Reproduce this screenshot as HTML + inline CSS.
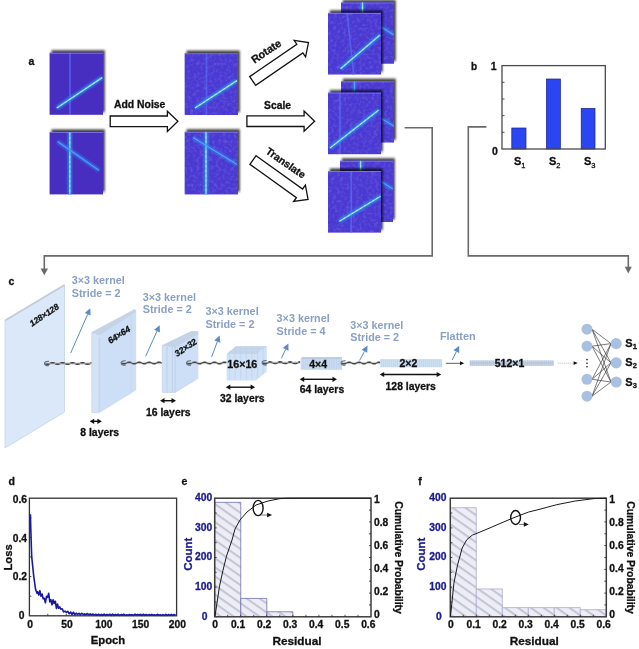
<!DOCTYPE html><html><head><meta charset="utf-8"><style>html,body{margin:0;padding:0;background:#fff;width:639px;height:649px;overflow:hidden}svg{filter:blur(0.4px)}</style></head><body><svg width="639" height="649" viewBox="0 0 639 649" style="position:absolute;left:0;top:0;font-family:'Liberation Sans', sans-serif">
<defs>
<filter id="shadow" x="-20%" y="-20%" width="140%" height="140%"><feDropShadow dx="1.8" dy="-2.6" stdDeviation="1.3" flood-color="#000" flood-opacity="0.75"/></filter>
<filter id="blur1" filterUnits="userSpaceOnUse" x="0" y="0" width="639" height="649"><feGaussianBlur stdDeviation="0.8"/></filter>
<filter id="blur05" filterUnits="userSpaceOnUse" x="0" y="0" width="639" height="649"><feGaussianBlur stdDeviation="0.5"/></filter>
<filter id="noise" x="0" y="0" width="100%" height="100%"><feTurbulence type="fractalNoise" baseFrequency="0.32" numOctaves="2" seed="4"/><feColorMatrix type="matrix" values="0 0 0 0 0.31  0 0 0 0 0.28  0 0 0 0 0.98  0 0 0 -2.6 1.35"/></filter>
<filter id="noise2" x="0" y="0" width="100%" height="100%"><feTurbulence type="fractalNoise" baseFrequency="0.3" numOctaves="2" seed="9"/><feColorMatrix type="matrix" values="0 0 0 0 0.2  0 0 0 0 0.12  0 0 0 0 0.65  0 0 0 -2.4 1.25"/></filter>
<pattern id="hatch" patternUnits="userSpaceOnUse" width="14" height="7.6" patternTransform="rotate(0)">
</pattern>
</defs>
<rect width="639" height="649" fill="#fff"/>
<text x="28.4" y="65" font-size="10.5" font-weight="bold" fill="#111" stroke="#111" stroke-width="0.3" text-anchor="start">a</text>
<clipPath id="c4"><rect x="49.6" y="52.8" width="53.4" height="62.0"/></clipPath>
<rect x="49.6" y="52.8" width="53.4" height="62.0" fill="#472fc0" filter="url(#shadow)"/>
<g clip-path="url(#c4)">
<line x1="70" y1="52" x2="70" y2="115" stroke="#5868f2" stroke-width="1.7" opacity="0.8" filter="url(#blur05)"/>
<line x1="56.8" y1="108" x2="102.2" y2="77.6" stroke="#2c8ef2" stroke-width="4.2" opacity="0.9" filter="url(#blur1)"/>
<line x1="56.8" y1="108" x2="102.2" y2="77.6" stroke="#8ee0ea" stroke-width="1.3" opacity="0.95"/>
<line x1="56.8" y1="108" x2="102.2" y2="77.6" stroke="#e0f4b0" stroke-width="0.9" stroke-dasharray="2.2,2.6" opacity="0.8"/>
<line x1="49.6" y1="53.3" x2="103" y2="53.3" stroke="#8f88f0" stroke-width="1" opacity="0.7"/>
</g>
<clipPath id="c13"><rect x="49.6" y="132" width="53.4" height="62.400000000000006"/></clipPath>
<rect x="49.6" y="132" width="53.4" height="62.400000000000006" fill="#472fc0" filter="url(#shadow)"/>
<g clip-path="url(#c13)">
<line x1="69.8" y1="132" x2="69.8" y2="194" stroke="#2c8ef2" stroke-width="4.2" opacity="0.9" filter="url(#blur1)"/>
<line x1="69.8" y1="132" x2="69.8" y2="194" stroke="#8ee0ea" stroke-width="1.3" opacity="0.95"/>
<line x1="69.8" y1="132" x2="69.8" y2="194" stroke="#e0f4b0" stroke-width="0.9" stroke-dasharray="2.2,2.6" opacity="0.8"/>
<line x1="57.6" y1="141.5" x2="99" y2="170.4" stroke="#3484f2" stroke-width="3.4" opacity="0.85" filter="url(#blur1)"/>
<line x1="57.6" y1="141.5" x2="99" y2="170.4" stroke="#5cbcf2" stroke-width="1.0" opacity="0.8"/>
<line x1="49.6" y1="132.5" x2="103" y2="132.5" stroke="#8f88f0" stroke-width="1" opacity="0.7"/>
</g>
<clipPath id="c23"><rect x="184.7" y="53.2" width="53.30000000000001" height="61.8"/></clipPath>
<rect x="184.7" y="53.2" width="53.30000000000001" height="61.8" fill="#4838d2" filter="url(#shadow)"/>
<g clip-path="url(#c23)">
<rect x="184.7" y="53.2" width="53.30000000000001" height="61.8" fill="#5a4ae0" filter="url(#noise)" opacity="0.3"/>
<rect x="184.7" y="53.2" width="53.30000000000001" height="61.8" fill="#5a4ae0" filter="url(#noise2)" opacity="0.5"/>
<line x1="206.5" y1="52.5" x2="206.5" y2="115" stroke="#5868f2" stroke-width="1.7" opacity="0.8" filter="url(#blur05)"/>
<line x1="195" y1="108" x2="236.9" y2="80.6" stroke="#2c8ef2" stroke-width="4.2" opacity="0.9" filter="url(#blur1)"/>
<line x1="195" y1="108" x2="236.9" y2="80.6" stroke="#8ee0ea" stroke-width="1.3" opacity="0.95"/>
<line x1="195" y1="108" x2="236.9" y2="80.6" stroke="#e0f4b0" stroke-width="0.9" stroke-dasharray="2.2,2.6" opacity="0.8"/>
<line x1="184.7" y1="53.7" x2="238" y2="53.7" stroke="#8f88f0" stroke-width="1" opacity="0.7"/>
</g>
<clipPath id="c34"><rect x="184.7" y="131.8" width="53.30000000000001" height="62.599999999999994"/></clipPath>
<rect x="184.7" y="131.8" width="53.30000000000001" height="62.599999999999994" fill="#4838d2" filter="url(#shadow)"/>
<g clip-path="url(#c34)">
<rect x="184.7" y="131.8" width="53.30000000000001" height="62.599999999999994" fill="#5a4ae0" filter="url(#noise)" opacity="0.3"/>
<rect x="184.7" y="131.8" width="53.30000000000001" height="62.599999999999994" fill="#5a4ae0" filter="url(#noise2)" opacity="0.5"/>
<line x1="206" y1="131.5" x2="206" y2="194.4" stroke="#2c8ef2" stroke-width="4.2" opacity="0.9" filter="url(#blur1)"/>
<line x1="206" y1="131.5" x2="206" y2="194.4" stroke="#8ee0ea" stroke-width="1.3" opacity="0.95"/>
<line x1="206" y1="131.5" x2="206" y2="194.4" stroke="#e0f4b0" stroke-width="0.9" stroke-dasharray="2.2,2.6" opacity="0.8"/>
<line x1="193" y1="137.5" x2="236.9" y2="164.4" stroke="#3484f2" stroke-width="3.4" opacity="0.85" filter="url(#blur1)"/>
<line x1="193" y1="137.5" x2="236.9" y2="164.4" stroke="#5cbcf2" stroke-width="1.0" opacity="0.8"/>
<line x1="184.7" y1="132.3" x2="238" y2="132.3" stroke="#8f88f0" stroke-width="1" opacity="0.7"/>
</g>
<clipPath id="c46"><rect x="341" y="2.5" width="53" height="61.2"/></clipPath>
<rect x="341" y="2.5" width="53" height="61.2" fill="#4838d2" filter="url(#shadow)"/>
<g clip-path="url(#c46)">
<rect x="341" y="2.5" width="53" height="61.2" fill="#5a4ae0" filter="url(#noise)" opacity="0.3"/>
<rect x="341" y="2.5" width="53" height="61.2" fill="#5a4ae0" filter="url(#noise2)" opacity="0.5"/>
<line x1="362.5" y1="2" x2="362.5" y2="63" stroke="#2c8ef2" stroke-width="4.2" opacity="0.9" filter="url(#blur1)"/>
<line x1="362.5" y1="2" x2="362.5" y2="63" stroke="#8ee0ea" stroke-width="1.3" opacity="0.95"/>
<line x1="362.5" y1="2" x2="362.5" y2="63" stroke="#e0f4b0" stroke-width="0.9" stroke-dasharray="2.2,2.6" opacity="0.8"/>
<line x1="370" y1="20" x2="394" y2="35" stroke="#3484f2" stroke-width="3.4" opacity="0.85" filter="url(#blur1)"/>
<line x1="370" y1="20" x2="394" y2="35" stroke="#5cbcf2" stroke-width="1.0" opacity="0.8"/>
<line x1="341" y1="3.0" x2="394" y2="3.0" stroke="#8f88f0" stroke-width="1" opacity="0.7"/>
</g>
<clipPath id="c58"><rect x="328" y="12.9" width="53" height="61.6"/></clipPath>
<rect x="328" y="12.9" width="53" height="61.6" fill="#4838d2" filter="url(#shadow)"/>
<g clip-path="url(#c58)">
<rect x="328" y="12.9" width="53" height="61.6" fill="#5a4ae0" filter="url(#noise)" opacity="0.3"/>
<rect x="328" y="12.9" width="53" height="61.6" fill="#5a4ae0" filter="url(#noise2)" opacity="0.5"/>
<line x1="347" y1="12.5" x2="353.75" y2="75" stroke="#5868f2" stroke-width="1.7" opacity="0.8" filter="url(#blur05)"/>
<line x1="340.6" y1="68.75" x2="380" y2="35" stroke="#2c8ef2" stroke-width="4.2" opacity="0.9" filter="url(#blur1)"/>
<line x1="340.6" y1="68.75" x2="380" y2="35" stroke="#8ee0ea" stroke-width="1.3" opacity="0.95"/>
<line x1="340.6" y1="68.75" x2="380" y2="35" stroke="#e0f4b0" stroke-width="0.9" stroke-dasharray="2.2,2.6" opacity="0.8"/>
<line x1="328" y1="13.4" x2="381" y2="13.4" stroke="#8f88f0" stroke-width="1" opacity="0.7"/>
</g>
<clipPath id="c69"><rect x="341" y="81.3" width="53" height="61.2"/></clipPath>
<rect x="341" y="81.3" width="53" height="61.2" fill="#4838d2" filter="url(#shadow)"/>
<g clip-path="url(#c69)">
<rect x="341" y="81.3" width="53" height="61.2" fill="#5a4ae0" filter="url(#noise)" opacity="0.3"/>
<rect x="341" y="81.3" width="53" height="61.2" fill="#5a4ae0" filter="url(#noise2)" opacity="0.5"/>
<line x1="354.4" y1="81" x2="354.4" y2="142.5" stroke="#3484f2" stroke-width="3.4" opacity="0.85" filter="url(#blur1)"/>
<line x1="354.4" y1="81" x2="354.4" y2="142.5" stroke="#5cbcf2" stroke-width="1.0" opacity="0.8"/>
<line x1="370" y1="112" x2="394" y2="126" stroke="#3484f2" stroke-width="3.4" opacity="0.85" filter="url(#blur1)"/>
<line x1="370" y1="112" x2="394" y2="126" stroke="#5cbcf2" stroke-width="1.0" opacity="0.8"/>
<line x1="341" y1="81.8" x2="394" y2="81.8" stroke="#8f88f0" stroke-width="1" opacity="0.7"/>
</g>
<clipPath id="c80"><rect x="328" y="92.60000000000001" width="53" height="61.59999999999998"/></clipPath>
<rect x="328" y="92.60000000000001" width="53" height="61.59999999999998" fill="#4838d2" filter="url(#shadow)"/>
<g clip-path="url(#c80)">
<rect x="328" y="92.60000000000001" width="53" height="61.59999999999998" fill="#5a4ae0" filter="url(#noise)" opacity="0.3"/>
<rect x="328" y="92.60000000000001" width="53" height="61.59999999999998" fill="#5a4ae0" filter="url(#noise2)" opacity="0.5"/>
<line x1="340" y1="92" x2="340" y2="154" stroke="#5868f2" stroke-width="1.7" opacity="0.8" filter="url(#blur05)"/>
<line x1="330" y1="148" x2="378.75" y2="110" stroke="#2c8ef2" stroke-width="4.2" opacity="0.9" filter="url(#blur1)"/>
<line x1="330" y1="148" x2="378.75" y2="110" stroke="#8ee0ea" stroke-width="1.3" opacity="0.95"/>
<line x1="330" y1="148" x2="378.75" y2="110" stroke="#e0f4b0" stroke-width="0.9" stroke-dasharray="2.2,2.6" opacity="0.8"/>
<line x1="328" y1="93.10000000000001" x2="381" y2="93.10000000000001" stroke="#8f88f0" stroke-width="1" opacity="0.7"/>
</g>
<clipPath id="c91"><rect x="340" y="160.8" width="53" height="61.19999999999999"/></clipPath>
<rect x="340" y="160.8" width="53" height="61.19999999999999" fill="#4838d2" filter="url(#shadow)"/>
<g clip-path="url(#c91)">
<rect x="340" y="160.8" width="53" height="61.19999999999999" fill="#5a4ae0" filter="url(#noise)" opacity="0.3"/>
<rect x="340" y="160.8" width="53" height="61.19999999999999" fill="#5a4ae0" filter="url(#noise2)" opacity="0.5"/>
<line x1="360.6" y1="160.5" x2="360.6" y2="222" stroke="#2c8ef2" stroke-width="4.2" opacity="0.9" filter="url(#blur1)"/>
<line x1="360.6" y1="160.5" x2="360.6" y2="222" stroke="#8ee0ea" stroke-width="1.3" opacity="0.95"/>
<line x1="360.6" y1="160.5" x2="360.6" y2="222" stroke="#e0f4b0" stroke-width="0.9" stroke-dasharray="2.2,2.6" opacity="0.8"/>
<line x1="372" y1="176" x2="393" y2="189" stroke="#3484f2" stroke-width="3.4" opacity="0.85" filter="url(#blur1)"/>
<line x1="372" y1="176" x2="393" y2="189" stroke="#5cbcf2" stroke-width="1.0" opacity="0.8"/>
<line x1="340" y1="161.3" x2="393" y2="161.3" stroke="#8f88f0" stroke-width="1" opacity="0.7"/>
</g>
<clipPath id="c103"><rect x="328" y="171.0" width="53" height="61.599999999999994"/></clipPath>
<rect x="328" y="171.0" width="53" height="61.599999999999994" fill="#4838d2" filter="url(#shadow)"/>
<g clip-path="url(#c103)">
<rect x="328" y="171.0" width="53" height="61.599999999999994" fill="#5a4ae0" filter="url(#noise)" opacity="0.3"/>
<rect x="328" y="171.0" width="53" height="61.599999999999994" fill="#5a4ae0" filter="url(#noise2)" opacity="0.5"/>
<line x1="351.25" y1="170.6" x2="351.25" y2="232.5" stroke="#5868f2" stroke-width="1.7" opacity="0.8" filter="url(#blur05)"/>
<line x1="339.4" y1="221.25" x2="380.6" y2="196.25" stroke="#2c8ef2" stroke-width="4.2" opacity="0.9" filter="url(#blur1)"/>
<line x1="339.4" y1="221.25" x2="380.6" y2="196.25" stroke="#8ee0ea" stroke-width="1.3" opacity="0.95"/>
<line x1="339.4" y1="221.25" x2="380.6" y2="196.25" stroke="#e0f4b0" stroke-width="0.9" stroke-dasharray="2.2,2.6" opacity="0.8"/>
<line x1="328" y1="171.5" x2="381" y2="171.5" stroke="#8f88f0" stroke-width="1" opacity="0.7"/>
</g>
<polygon points="110.20,116.00 167.40,116.00 167.40,111.20 177.90,121.30 167.40,131.40 167.40,126.60 110.20,126.60" fill="#fff" stroke="#111" stroke-width="1.3" stroke-linejoin="miter"/>
<polygon points="246.90,115.90 304.10,115.90 304.10,111.10 314.60,121.20 304.10,131.30 304.10,126.50 246.90,126.50" fill="#fff" stroke="#111" stroke-width="1.3" stroke-linejoin="miter"/>
<polygon points="249.70,76.63 296.84,44.23 294.12,40.28 308.49,42.65 305.56,56.93 302.84,52.97 255.70,85.37" fill="#fff" stroke="#111" stroke-width="1.3" stroke-linejoin="miter"/>
<polygon points="256.09,155.69 302.59,188.99 305.39,185.09 308.05,199.41 293.63,201.51 296.42,197.61 249.91,164.31" fill="#fff" stroke="#111" stroke-width="1.3" stroke-linejoin="miter"/>
<text x="114" y="108.3" font-size="10.4" font-weight="bold" fill="#111" stroke="#111" stroke-width="0.3" text-anchor="start">Add Noise</text>
<text x="264.1" y="108.5" font-size="10.3" font-weight="bold" fill="#111" stroke="#111" stroke-width="0.3" text-anchor="start">Scale</text>
<path d="M404.6,127.7 H432.2 V255.9 H44.3 V270" fill="none" stroke="#6a6a6a" stroke-width="1.6"/>
<polygon points="40.6,268.5 48,268.5 44.3,275.3" fill="#6a6a6a"/>
<path d="M486.4,126.9 H468.3 V255.9 H628.3 V268" fill="none" stroke="#6a6a6a" stroke-width="1.6"/>
<polygon points="624.8,266.8 631.8,266.8 628.3,273.4" fill="#6a6a6a"/>
<text x="471" y="70.3" font-size="10" font-weight="bold" fill="#111" stroke="#111" stroke-width="0.3" text-anchor="start">b</text>
<text x="496.5" y="70.2" font-size="10.5" font-weight="bold" fill="#111" stroke="#111" stroke-width="0.3" text-anchor="end">1</text>
<text x="497.8" y="155.2" font-size="10.5" font-weight="bold" fill="#111" stroke="#111" stroke-width="0.3" text-anchor="end">0</text>
<rect x="511.8" y="128" width="14.199999999999989" height="21" fill="#2a46f2" stroke="#1a2090" stroke-width="0.7"/>
<rect x="546.4" y="79" width="14.0" height="70" fill="#2a46f2" stroke="#1a2090" stroke-width="0.7"/>
<rect x="581.2" y="108.4" width="13.799999999999955" height="40.599999999999994" fill="#2a46f2" stroke="#1a2090" stroke-width="0.7"/>
<rect x="502" y="65.6" width="103.29999999999995" height="83.4" fill="none" stroke="#4a4a4a" stroke-width="1.3"/>
<line x1="502" y1="132.3" x2="504.5" y2="132.3" stroke="#4a4a4a" stroke-width="1"/>
<line x1="502" y1="115.6" x2="504.5" y2="115.6" stroke="#4a4a4a" stroke-width="1"/>
<line x1="502" y1="99.0" x2="504.5" y2="99.0" stroke="#4a4a4a" stroke-width="1"/>
<line x1="502" y1="82.3" x2="504.5" y2="82.3" stroke="#4a4a4a" stroke-width="1"/>
<text x="514" y="165.2" font-size="11" font-weight="bold" fill="#111" stroke="#111" stroke-width="0.3">S<tspan font-size="7.5" font-weight="normal" dy="2.8">1</tspan></text>
<text x="549" y="165.2" font-size="11" font-weight="bold" fill="#111" stroke="#111" stroke-width="0.3">S<tspan font-size="7.5" font-weight="normal" dy="2.8">2</tspan></text>
<text x="584" y="165.2" font-size="11" font-weight="bold" fill="#111" stroke="#111" stroke-width="0.3">S<tspan font-size="7.5" font-weight="normal" dy="2.8">3</tspan></text>
<text x="8.5" y="284.6" font-size="10.5" font-weight="bold" fill="#111" stroke="#111" stroke-width="0.3" text-anchor="start">c</text>
<text x="0" y="3.8" font-size="10.8" font-weight="bold" fill="#111" text-anchor="middle" transform="translate(266.2,51.3) rotate(-34)" stroke="#111" stroke-width="0.3">Rotate</text>
<text x="0" y="3.7" font-size="10.4" font-weight="bold" fill="#111" text-anchor="middle" transform="translate(285.8,162.8) rotate(35)" stroke="#111" stroke-width="0.3">Translate</text>
<polygon points="5,320.5 64.5,285 64.5,412 5,448" fill="#dbe8f9" stroke="#cbd9ea" stroke-width="1"/>
<line x1="5" y1="320.5" x2="64.5" y2="285" stroke="#c2ccd8" stroke-width="1.6"/>
<text x="0" y="3.3" font-size="8.5" font-weight="bold" font-style="italic" fill="#111" text-anchor="middle" transform="translate(44,314.7) rotate(-33.5)" stroke="#111" stroke-width="0.3">128×128</text>
<path d="M45.00,363.50 L46.00,363.94 L47.00,364.21 L48.00,364.21 L49.00,363.94 L50.00,363.50 L51.00,363.06 L52.00,362.79 L53.00,362.79 L54.00,363.06 L55.00,363.50 L56.00,363.94 L57.00,364.21 L58.00,364.21 L59.00,363.94 L60.00,363.50 L61.00,363.06 L62.00,362.79 L63.00,362.79 L64.00,363.06 L65.00,363.50 L66.00,363.94 L67.00,364.21 L68.00,364.21 L69.00,363.94 L70.00,363.50 L71.00,363.06 L72.00,362.79 L73.00,362.79 L74.00,363.06 L75.00,363.50 L76.00,363.94 L77.00,364.21 L78.00,364.21 L79.00,363.94 L80.00,363.50 L81.00,363.06 L82.00,362.79 L83.00,362.79 L84.00,363.06 L85.00,363.50 L86.00,363.94 L87.00,364.21 L88.00,364.21 L89.00,363.94 L90.00,363.50 L91.00,363.06 L92.00,362.79 L93.00,362.79 L94.00,363.06 L95.00,363.50" fill="none" stroke="#454545" stroke-width="1.7"/>
<path d="M45.00,363.50 L46.00,363.06 L47.00,362.79 L48.00,362.79 L49.00,363.06 L50.00,363.50 L51.00,363.94 L52.00,364.21 L53.00,364.21 L54.00,363.94 L55.00,363.50 L56.00,363.06 L57.00,362.79 L58.00,362.79 L59.00,363.06 L60.00,363.50 L61.00,363.94 L62.00,364.21 L63.00,364.21 L64.00,363.94 L65.00,363.50 L66.00,363.06 L67.00,362.79 L68.00,362.79 L69.00,363.06 L70.00,363.50 L71.00,363.94 L72.00,364.21 L73.00,364.21 L74.00,363.94 L75.00,363.50 L76.00,363.06 L77.00,362.79 L78.00,362.79 L79.00,363.06 L80.00,363.50 L81.00,363.94 L82.00,364.21 L83.00,364.21 L84.00,363.94 L85.00,363.50 L86.00,363.06 L87.00,362.79 L88.00,362.79 L89.00,363.06 L90.00,363.50 L91.00,363.94 L92.00,364.21 L93.00,364.21 L94.00,363.94 L95.00,363.50" fill="none" stroke="#c8c8c8" stroke-width="0.8"/>
<path d="M49,361.3 Q44.5,361.1 44.5,363.5 Q44.5,365.9 49,365.7" fill="none" stroke="#5a6a80" stroke-width="1.1"/>
<polygon points="91.8,332.4 134.8,309.4 135.7,310 135.7,390 99.1,412.6 91.8,412.6" fill="#d4e3f6" stroke="#c5d5ea" stroke-width="0.8"/>
<polygon points="99.1,335.6 135.7,312.2 135.7,390 99.1,412.6" fill="#cddff6"/>
<polygon points="91.8,332.4 134.8,309.4 135.7,312.2 99.1,335.6" fill="#c4d3e5"/>
<line x1="99.1" y1="337" x2="99.1" y2="412.6" stroke="#b9cbe2" stroke-width="0.8"/>
<line x1="131" y1="316" x2="131" y2="392" stroke="#c0d2ea" stroke-width="0.6"/>
<text x="0" y="3.3" font-size="8.8" font-weight="bold" font-style="italic" fill="#111" text-anchor="middle" transform="translate(118.9,334.6) rotate(-33)" stroke="#111" stroke-width="0.3">64×64</text>
<path d="M121.60,363.00 L122.61,363.44 L123.62,363.72 L124.63,363.71 L125.64,363.43 L126.65,362.98 L127.66,362.54 L128.67,362.28 L129.68,362.30 L130.69,362.59 L131.70,363.05 L132.71,363.48 L133.72,363.73 L134.73,363.69 L135.74,363.39 L136.75,362.93 L137.76,362.50 L138.77,362.27 L139.78,362.32 L140.79,362.63 L141.80,363.09 L142.81,363.52 L143.82,363.74 L144.83,363.67 L145.84,363.34 L146.85,362.88 L147.86,362.47 L148.87,362.26 L149.88,362.34 L150.89,362.68 L151.90,363.14 L152.91,363.55 L153.92,363.75 L154.93,363.65 L155.94,363.30 L156.95,362.84 L157.96,362.43 L158.97,362.25 L159.98,362.36 L160.99,362.72 L162.00,363.19" fill="none" stroke="#454545" stroke-width="1.7"/>
<path d="M121.60,363.00 L122.61,362.56 L123.62,362.28 L124.63,362.29 L125.64,362.57 L126.65,363.02 L127.66,363.46 L128.67,363.72 L129.68,363.70 L130.69,363.41 L131.70,362.95 L132.71,362.52 L133.72,362.27 L134.73,362.31 L135.74,362.61 L136.75,363.07 L137.76,363.50 L138.77,363.73 L139.78,363.68 L140.79,363.37 L141.80,362.91 L142.81,362.48 L143.82,362.26 L144.83,362.33 L145.84,362.66 L146.85,363.12 L147.86,363.53 L148.87,363.74 L149.88,363.66 L150.89,363.32 L151.90,362.86 L152.91,362.45 L153.92,362.25 L154.93,362.35 L155.94,362.70 L156.95,363.16 L157.96,363.57 L158.97,363.75 L159.98,363.64 L160.99,363.28 L162.00,362.81" fill="none" stroke="#c8c8c8" stroke-width="0.8"/>
<path d="M125.6,360.8 Q121.1,360.6 121.1,363 Q121.1,365.4 125.6,365.2" fill="none" stroke="#5a6a80" stroke-width="1.1"/>
<polygon points="162.3,345.5 191,331.6 197.8,331.6 197.8,378.6 175,392.4 162.3,392.4" fill="#d2e2f6" stroke="#c5d5ea" stroke-width="0.8"/>
<polygon points="175,347.6 197.8,334.2 197.8,378.6 175,392.4" fill="#cddff6"/>
<polygon points="162.3,345.5 191,331.6 197.8,331.6 197.8,334.2 175,347.6" fill="#c4d3e5"/>
<line x1="167" y1="347.0" x2="167" y2="392.4" stroke="#b5c8e0" stroke-width="0.7"/>
<line x1="172.4" y1="346.5" x2="172.4" y2="392.4" stroke="#b5c8e0" stroke-width="0.7"/>
<line x1="175" y1="346.2" x2="175" y2="392.4" stroke="#b5c8e0" stroke-width="0.7"/>
<text x="0" y="3.3" font-size="8.8" font-weight="bold" font-style="italic" fill="#111" text-anchor="middle" transform="translate(185.5,347.3) rotate(-34)" stroke="#111" stroke-width="0.3">32×32</text>
<path d="M187.00,363.00 L188.02,363.45 L189.03,363.72 L190.05,363.71 L191.06,363.42 L192.08,362.96 L193.09,362.52 L194.11,362.27 L195.12,362.31 L196.14,362.61 L197.15,363.07 L198.17,363.50 L199.18,363.74 L200.20,363.68 L201.22,363.35 L202.23,362.89 L203.25,362.47 L204.26,362.26 L205.28,362.34 L206.29,362.68 L207.31,363.14 L208.32,363.55 L209.34,363.75 L210.35,363.64 L211.37,363.29 L212.38,362.82 L213.40,362.42 L214.42,362.25 L215.43,362.37 L216.45,362.74 L217.46,363.21 L218.48,363.60 L219.49,363.75 L220.51,363.60 L221.52,363.22 L222.54,362.75 L223.55,362.38 L224.57,362.25 L225.58,362.42 L226.60,362.81" fill="none" stroke="#454545" stroke-width="1.7"/>
<path d="M187.00,363.00 L188.02,362.55 L189.03,362.28 L190.05,362.29 L191.06,362.58 L192.08,363.04 L193.09,363.48 L194.11,363.73 L195.12,363.69 L196.14,363.39 L197.15,362.93 L198.17,362.50 L199.18,362.26 L200.20,362.32 L201.22,362.65 L202.23,363.11 L203.25,363.53 L204.26,363.74 L205.28,363.66 L206.29,363.32 L207.31,362.86 L208.32,362.45 L209.34,362.25 L210.35,362.36 L211.37,362.71 L212.38,363.18 L213.40,363.58 L214.42,363.75 L215.43,363.63 L216.45,363.26 L217.46,362.79 L218.48,362.40 L219.49,362.25 L220.51,362.40 L221.52,362.78 L222.54,363.25 L223.55,363.62 L224.57,363.75 L225.58,363.58 L226.60,363.19" fill="none" stroke="#c8c8c8" stroke-width="0.8"/>
<path d="M191,360.8 Q186.5,360.6 186.5,363 Q186.5,365.4 191,365.2" fill="none" stroke="#5a6a80" stroke-width="1.1"/>
<polygon points="226.6,354 236,346.2 266.8,346.2 266.8,371.5 256,380.4 226.6,380.4" fill="#d0e2f7"/>
<polygon points="226.6,354 236,346.2 266.8,346.2 256,354" fill="#c4d5ea"/>
<line x1="229.5" y1="351.7" x2="229.5" y2="380.0" stroke="#bccfe6" stroke-width="0.6"/>
<line x1="235.1" y1="347.2" x2="235.1" y2="380.0" stroke="#bccfe6" stroke-width="0.6"/>
<line x1="240.7" y1="346.6" x2="240.7" y2="380.0" stroke="#bccfe6" stroke-width="0.6"/>
<line x1="246.3" y1="346.6" x2="246.3" y2="380.0" stroke="#bccfe6" stroke-width="0.6"/>
<line x1="251.9" y1="346.6" x2="251.9" y2="380.0" stroke="#bccfe6" stroke-width="0.6"/>
<line x1="257.5" y1="346.6" x2="257.5" y2="378.1" stroke="#bccfe6" stroke-width="0.6"/>
<line x1="263.1" y1="346.6" x2="263.1" y2="374.3" stroke="#bccfe6" stroke-width="0.6"/>
<text x="242.3" y="367.7" font-size="10.7" font-weight="bold" fill="#111" stroke="#111" stroke-width="0.3" text-anchor="middle">16×16</text>
<path d="M262.60,362.70 L263.62,363.15 L264.63,363.42 L265.65,363.41 L266.66,363.12 L267.68,362.66 L268.70,362.22 L269.71,361.97 L270.73,362.01 L271.75,362.32 L272.76,362.78 L273.78,363.21 L274.79,363.44 L275.81,363.38 L276.83,363.05 L277.84,362.59 L278.86,362.17 L279.88,361.96 L280.89,362.04 L281.91,362.38 L282.92,362.85 L283.94,363.26 L284.96,363.45 L285.97,363.34 L286.99,362.98 L288.01,362.51 L289.02,362.12 L290.04,361.95 L291.05,362.08 L292.07,362.45 L293.09,362.93 L294.10,363.31 L295.12,363.45 L296.14,363.30 L297.15,362.91 L298.17,362.44 L299.18,362.07 L300.20,361.95" fill="none" stroke="#454545" stroke-width="1.7"/>
<path d="M262.60,362.70 L263.62,362.25 L264.63,361.98 L265.65,361.99 L266.66,362.28 L267.68,362.74 L268.70,363.18 L269.71,363.43 L270.73,363.39 L271.75,363.08 L272.76,362.62 L273.78,362.19 L274.79,361.96 L275.81,362.02 L276.83,362.35 L277.84,362.81 L278.86,363.23 L279.88,363.44 L280.89,363.36 L281.91,363.02 L282.92,362.55 L283.94,362.14 L284.96,361.95 L285.97,362.06 L286.99,362.42 L288.01,362.89 L289.02,363.28 L290.04,363.45 L291.05,363.32 L292.07,362.95 L293.09,362.47 L294.10,362.09 L295.12,361.95 L296.14,362.10 L297.15,362.49 L298.17,362.96 L299.18,363.33 L300.20,363.45" fill="none" stroke="#c8c8c8" stroke-width="0.8"/>
<path d="M266.6,360.5 Q262.1,360.3 262.1,362.7 Q262.1,365.09999999999997 266.6,364.9" fill="none" stroke="#5a6a80" stroke-width="1.1"/>
<polygon points="302.5,357.2 341.9,357.2 341.9,369.8 300.6,369.8 300.6,359.2" fill="#cadcf2"/>
<rect x="301.5" y="357.2" width="40.4" height="1.8" fill="#bccde3"/>
<line x1="303.0" y1="357.2" x2="303.0" y2="369.8" stroke="#b4c8e2" stroke-width="0.5"/>
<line x1="305.4" y1="357.2" x2="305.4" y2="369.8" stroke="#b4c8e2" stroke-width="0.5"/>
<line x1="307.8" y1="357.2" x2="307.8" y2="369.8" stroke="#b4c8e2" stroke-width="0.5"/>
<line x1="310.2" y1="357.2" x2="310.2" y2="369.8" stroke="#b4c8e2" stroke-width="0.5"/>
<line x1="312.6" y1="357.2" x2="312.6" y2="369.8" stroke="#b4c8e2" stroke-width="0.5"/>
<line x1="315.0" y1="357.2" x2="315.0" y2="369.8" stroke="#b4c8e2" stroke-width="0.5"/>
<line x1="317.4" y1="357.2" x2="317.4" y2="369.8" stroke="#b4c8e2" stroke-width="0.5"/>
<line x1="319.8" y1="357.2" x2="319.8" y2="369.8" stroke="#b4c8e2" stroke-width="0.5"/>
<line x1="322.2" y1="357.2" x2="322.2" y2="369.8" stroke="#b4c8e2" stroke-width="0.5"/>
<line x1="324.6" y1="357.2" x2="324.6" y2="369.8" stroke="#b4c8e2" stroke-width="0.5"/>
<line x1="327.0" y1="357.2" x2="327.0" y2="369.8" stroke="#b4c8e2" stroke-width="0.5"/>
<line x1="329.4" y1="357.2" x2="329.4" y2="369.8" stroke="#b4c8e2" stroke-width="0.5"/>
<line x1="331.8" y1="357.2" x2="331.8" y2="369.8" stroke="#b4c8e2" stroke-width="0.5"/>
<line x1="334.2" y1="357.2" x2="334.2" y2="369.8" stroke="#b4c8e2" stroke-width="0.5"/>
<line x1="336.6" y1="357.2" x2="336.6" y2="369.8" stroke="#b4c8e2" stroke-width="0.5"/>
<line x1="339.0" y1="357.2" x2="339.0" y2="369.8" stroke="#b4c8e2" stroke-width="0.5"/>
<line x1="341.4" y1="357.2" x2="341.4" y2="369.8" stroke="#b4c8e2" stroke-width="0.5"/>
<text x="318.2" y="367.6" font-size="10.5" font-weight="bold" fill="#111" stroke="#111" stroke-width="0.3" text-anchor="middle">4×4</text>
<path d="M341.60,363.00 L342.62,363.45 L343.63,363.72 L344.65,363.71 L345.66,363.42 L346.68,362.96 L347.69,362.52 L348.71,362.27 L349.73,362.31 L350.74,362.62 L351.76,363.07 L352.77,363.50 L353.79,363.74 L354.81,363.68 L355.82,363.35 L356.84,362.89 L357.85,362.47 L358.87,362.26 L359.88,362.34 L360.90,362.68 L361.92,363.15 L362.93,363.56 L363.95,363.75 L364.96,363.64 L365.98,363.29 L366.99,362.82 L368.01,362.42 L369.03,362.25 L370.04,362.38 L371.06,362.75 L372.07,363.22 L373.09,363.60 L374.11,363.75 L375.12,363.60 L376.14,363.22 L377.15,362.74 L378.17,362.37 L379.18,362.25 L380.20,362.42" fill="none" stroke="#454545" stroke-width="1.7"/>
<path d="M341.60,363.00 L342.62,362.55 L343.63,362.28 L344.65,362.29 L345.66,362.58 L346.68,363.04 L347.69,363.48 L348.71,363.73 L349.73,363.69 L350.74,363.38 L351.76,362.93 L352.77,362.50 L353.79,362.26 L354.81,362.32 L355.82,362.65 L356.84,363.11 L357.85,363.53 L358.87,363.74 L359.88,363.66 L360.90,363.32 L361.92,362.85 L362.93,362.44 L363.95,362.25 L364.96,362.36 L365.98,362.71 L366.99,363.18 L368.01,363.58 L369.03,363.75 L370.04,363.62 L371.06,363.25 L372.07,362.78 L373.09,362.40 L374.11,362.25 L375.12,362.40 L376.14,362.78 L377.15,363.26 L378.17,363.63 L379.18,363.75 L380.20,363.58" fill="none" stroke="#c8c8c8" stroke-width="0.8"/>
<path d="M345.6,360.8 Q341.1,360.6 341.1,363 Q341.1,365.4 345.6,365.2" fill="none" stroke="#5a6a80" stroke-width="1.1"/>
<rect x="380.2" y="359.2" width="61.8" height="8.1" fill="#cddff3"/>
<line x1="381.5" y1="359.1" x2="381.5" y2="367" stroke="#b9cce4" stroke-width="0.5"/>
<line x1="383.5" y1="359.1" x2="383.5" y2="367" stroke="#b9cce4" stroke-width="0.5"/>
<line x1="385.5" y1="359.1" x2="385.5" y2="367" stroke="#b9cce4" stroke-width="0.5"/>
<line x1="387.5" y1="359.1" x2="387.5" y2="367" stroke="#b9cce4" stroke-width="0.5"/>
<line x1="389.5" y1="359.1" x2="389.5" y2="367" stroke="#b9cce4" stroke-width="0.5"/>
<line x1="391.5" y1="359.1" x2="391.5" y2="367" stroke="#b9cce4" stroke-width="0.5"/>
<line x1="393.5" y1="359.1" x2="393.5" y2="367" stroke="#b9cce4" stroke-width="0.5"/>
<line x1="395.5" y1="359.1" x2="395.5" y2="367" stroke="#b9cce4" stroke-width="0.5"/>
<line x1="397.5" y1="359.1" x2="397.5" y2="367" stroke="#b9cce4" stroke-width="0.5"/>
<line x1="399.5" y1="359.1" x2="399.5" y2="367" stroke="#b9cce4" stroke-width="0.5"/>
<line x1="401.5" y1="359.1" x2="401.5" y2="367" stroke="#b9cce4" stroke-width="0.5"/>
<line x1="403.5" y1="359.1" x2="403.5" y2="367" stroke="#b9cce4" stroke-width="0.5"/>
<line x1="405.5" y1="359.1" x2="405.5" y2="367" stroke="#b9cce4" stroke-width="0.5"/>
<line x1="407.5" y1="359.1" x2="407.5" y2="367" stroke="#b9cce4" stroke-width="0.5"/>
<line x1="409.5" y1="359.1" x2="409.5" y2="367" stroke="#b9cce4" stroke-width="0.5"/>
<line x1="411.5" y1="359.1" x2="411.5" y2="367" stroke="#b9cce4" stroke-width="0.5"/>
<line x1="413.5" y1="359.1" x2="413.5" y2="367" stroke="#b9cce4" stroke-width="0.5"/>
<line x1="415.5" y1="359.1" x2="415.5" y2="367" stroke="#b9cce4" stroke-width="0.5"/>
<line x1="417.5" y1="359.1" x2="417.5" y2="367" stroke="#b9cce4" stroke-width="0.5"/>
<line x1="419.5" y1="359.1" x2="419.5" y2="367" stroke="#b9cce4" stroke-width="0.5"/>
<line x1="421.5" y1="359.1" x2="421.5" y2="367" stroke="#b9cce4" stroke-width="0.5"/>
<line x1="423.5" y1="359.1" x2="423.5" y2="367" stroke="#b9cce4" stroke-width="0.5"/>
<line x1="425.5" y1="359.1" x2="425.5" y2="367" stroke="#b9cce4" stroke-width="0.5"/>
<line x1="427.5" y1="359.1" x2="427.5" y2="367" stroke="#b9cce4" stroke-width="0.5"/>
<line x1="429.5" y1="359.1" x2="429.5" y2="367" stroke="#b9cce4" stroke-width="0.5"/>
<line x1="431.5" y1="359.1" x2="431.5" y2="367" stroke="#b9cce4" stroke-width="0.5"/>
<line x1="433.5" y1="359.1" x2="433.5" y2="367" stroke="#b9cce4" stroke-width="0.5"/>
<line x1="435.5" y1="359.1" x2="435.5" y2="367" stroke="#b9cce4" stroke-width="0.5"/>
<line x1="437.5" y1="359.1" x2="437.5" y2="367" stroke="#b9cce4" stroke-width="0.5"/>
<line x1="439.5" y1="359.1" x2="439.5" y2="367" stroke="#b9cce4" stroke-width="0.5"/>
<line x1="441.5" y1="359.1" x2="441.5" y2="367" stroke="#b9cce4" stroke-width="0.5"/>
<text x="408.4" y="367.4" font-size="10.5" font-weight="bold" fill="#111" stroke="#111" stroke-width="0.3" text-anchor="middle">2×2</text>
<rect x="469.7" y="360.4" width="84.2" height="5.5" fill="#c9d6e8"/>
<line x1="470.5" y1="360.4" x2="470.5" y2="365.9" stroke="#a9bad2" stroke-width="0.5"/>
<line x1="472.4" y1="360.4" x2="472.4" y2="365.9" stroke="#a9bad2" stroke-width="0.5"/>
<line x1="474.3" y1="360.4" x2="474.3" y2="365.9" stroke="#a9bad2" stroke-width="0.5"/>
<line x1="476.2" y1="360.4" x2="476.2" y2="365.9" stroke="#a9bad2" stroke-width="0.5"/>
<line x1="478.1" y1="360.4" x2="478.1" y2="365.9" stroke="#a9bad2" stroke-width="0.5"/>
<line x1="480.0" y1="360.4" x2="480.0" y2="365.9" stroke="#a9bad2" stroke-width="0.5"/>
<line x1="481.9" y1="360.4" x2="481.9" y2="365.9" stroke="#a9bad2" stroke-width="0.5"/>
<line x1="483.8" y1="360.4" x2="483.8" y2="365.9" stroke="#a9bad2" stroke-width="0.5"/>
<line x1="485.7" y1="360.4" x2="485.7" y2="365.9" stroke="#a9bad2" stroke-width="0.5"/>
<line x1="487.6" y1="360.4" x2="487.6" y2="365.9" stroke="#a9bad2" stroke-width="0.5"/>
<line x1="489.5" y1="360.4" x2="489.5" y2="365.9" stroke="#a9bad2" stroke-width="0.5"/>
<line x1="491.4" y1="360.4" x2="491.4" y2="365.9" stroke="#a9bad2" stroke-width="0.5"/>
<line x1="493.3" y1="360.4" x2="493.3" y2="365.9" stroke="#a9bad2" stroke-width="0.5"/>
<line x1="495.2" y1="360.4" x2="495.2" y2="365.9" stroke="#a9bad2" stroke-width="0.5"/>
<line x1="497.1" y1="360.4" x2="497.1" y2="365.9" stroke="#a9bad2" stroke-width="0.5"/>
<line x1="499.0" y1="360.4" x2="499.0" y2="365.9" stroke="#a9bad2" stroke-width="0.5"/>
<line x1="500.9" y1="360.4" x2="500.9" y2="365.9" stroke="#a9bad2" stroke-width="0.5"/>
<line x1="502.8" y1="360.4" x2="502.8" y2="365.9" stroke="#a9bad2" stroke-width="0.5"/>
<line x1="504.7" y1="360.4" x2="504.7" y2="365.9" stroke="#a9bad2" stroke-width="0.5"/>
<line x1="506.6" y1="360.4" x2="506.6" y2="365.9" stroke="#a9bad2" stroke-width="0.5"/>
<line x1="508.5" y1="360.4" x2="508.5" y2="365.9" stroke="#a9bad2" stroke-width="0.5"/>
<line x1="510.4" y1="360.4" x2="510.4" y2="365.9" stroke="#a9bad2" stroke-width="0.5"/>
<line x1="512.3" y1="360.4" x2="512.3" y2="365.9" stroke="#a9bad2" stroke-width="0.5"/>
<line x1="514.2" y1="360.4" x2="514.2" y2="365.9" stroke="#a9bad2" stroke-width="0.5"/>
<line x1="516.1" y1="360.4" x2="516.1" y2="365.9" stroke="#a9bad2" stroke-width="0.5"/>
<line x1="518.0" y1="360.4" x2="518.0" y2="365.9" stroke="#a9bad2" stroke-width="0.5"/>
<line x1="519.9" y1="360.4" x2="519.9" y2="365.9" stroke="#a9bad2" stroke-width="0.5"/>
<line x1="521.8" y1="360.4" x2="521.8" y2="365.9" stroke="#a9bad2" stroke-width="0.5"/>
<line x1="523.7" y1="360.4" x2="523.7" y2="365.9" stroke="#a9bad2" stroke-width="0.5"/>
<line x1="525.6" y1="360.4" x2="525.6" y2="365.9" stroke="#a9bad2" stroke-width="0.5"/>
<line x1="527.5" y1="360.4" x2="527.5" y2="365.9" stroke="#a9bad2" stroke-width="0.5"/>
<line x1="529.4" y1="360.4" x2="529.4" y2="365.9" stroke="#a9bad2" stroke-width="0.5"/>
<line x1="531.3" y1="360.4" x2="531.3" y2="365.9" stroke="#a9bad2" stroke-width="0.5"/>
<line x1="533.2" y1="360.4" x2="533.2" y2="365.9" stroke="#a9bad2" stroke-width="0.5"/>
<line x1="535.1" y1="360.4" x2="535.1" y2="365.9" stroke="#a9bad2" stroke-width="0.5"/>
<line x1="537.0" y1="360.4" x2="537.0" y2="365.9" stroke="#a9bad2" stroke-width="0.5"/>
<line x1="538.9" y1="360.4" x2="538.9" y2="365.9" stroke="#a9bad2" stroke-width="0.5"/>
<line x1="540.8" y1="360.4" x2="540.8" y2="365.9" stroke="#a9bad2" stroke-width="0.5"/>
<line x1="542.7" y1="360.4" x2="542.7" y2="365.9" stroke="#a9bad2" stroke-width="0.5"/>
<line x1="544.6" y1="360.4" x2="544.6" y2="365.9" stroke="#a9bad2" stroke-width="0.5"/>
<line x1="546.5" y1="360.4" x2="546.5" y2="365.9" stroke="#a9bad2" stroke-width="0.5"/>
<line x1="548.4" y1="360.4" x2="548.4" y2="365.9" stroke="#a9bad2" stroke-width="0.5"/>
<line x1="550.3" y1="360.4" x2="550.3" y2="365.9" stroke="#a9bad2" stroke-width="0.5"/>
<line x1="552.2" y1="360.4" x2="552.2" y2="365.9" stroke="#a9bad2" stroke-width="0.5"/>
<line x1="469.7" y1="363.1" x2="553.9" y2="363.1" stroke="#a9bad2" stroke-width="0.5"/>
<text x="509.5" y="367.3" font-size="10.5" font-weight="bold" fill="#111" stroke="#111" stroke-width="0.3" text-anchor="middle">512×1</text>
<line x1="445.9" y1="363.3" x2="461" y2="363.3" stroke="#333" stroke-width="0.8"/>
<polygon points="460,361.3 464.2,363.3 460,365.3" fill="#111"/>
<line x1="557.7" y1="363.1" x2="574.5" y2="363.1" stroke="#999" stroke-width="0.7" stroke-dasharray="1,1"/>
<polygon points="573.6,361.2 577.6,363.1 573.6,365" fill="#111"/>
<line x1="70.7" y1="353" x2="87.69" y2="314.25" stroke="#5a8cc2" stroke-width="1"/>
<polygon points="90.3,308.3 90.62,315.54 84.76,312.97" fill="#5a8cc2"/>
<line x1="145.6" y1="356.4" x2="157.02" y2="331.12" stroke="#5a8cc2" stroke-width="1"/>
<polygon points="159.7,325.2 159.94,332.44 154.11,329.81" fill="#5a8cc2"/>
<line x1="211.6" y1="357" x2="217.32" y2="341.69" stroke="#5a8cc2" stroke-width="1"/>
<polygon points="219.6,335.6 220.32,342.81 214.33,340.57" fill="#5a8cc2"/>
<line x1="281.4" y1="358.3" x2="285.62" y2="349.38" stroke="#5a8cc2" stroke-width="1"/>
<polygon points="288.4,343.5 288.51,350.74 282.73,348.01" fill="#5a8cc2"/>
<line x1="359.6" y1="360.5" x2="364.46" y2="351.34" stroke="#5a8cc2" stroke-width="1"/>
<polygon points="367.5,345.6 367.28,352.84 361.63,349.84" fill="#5a8cc2"/>
<line x1="452.2" y1="360" x2="456.33" y2="351.63" stroke="#5a8cc2" stroke-width="1"/>
<polygon points="459.2,345.8 459.20,353.04 453.46,350.22" fill="#5a8cc2"/>
<text x="71.7" y="283.8" font-size="10.8" font-weight="bold" fill="#8a9fc4" stroke="#8a9fc4" stroke-width="0" text-anchor="start">3×3 kernel</text>
<text x="71.7" y="296.6" font-size="10.8" font-weight="bold" fill="#8a9fc4" stroke="#8a9fc4" stroke-width="0" text-anchor="start">Stride = 2</text>
<text x="142.8" y="300.8" font-size="10.8" font-weight="bold" fill="#8a9fc4" stroke="#8a9fc4" stroke-width="0" text-anchor="start">3×3 kernel</text>
<text x="142.8" y="313.2" font-size="10.8" font-weight="bold" fill="#8a9fc4" stroke="#8a9fc4" stroke-width="0" text-anchor="start">Stride = 2</text>
<text x="205.5" y="315.3" font-size="10.8" font-weight="bold" fill="#8a9fc4" stroke="#8a9fc4" stroke-width="0" text-anchor="start">3×3 kernel</text>
<text x="205.5" y="327.9" font-size="10.8" font-weight="bold" fill="#8a9fc4" stroke="#8a9fc4" stroke-width="0" text-anchor="start">Stride = 2</text>
<text x="276.6" y="321.9" font-size="10.8" font-weight="bold" fill="#8a9fc4" stroke="#8a9fc4" stroke-width="0" text-anchor="start">3×3 kernel</text>
<text x="276.6" y="334.7" font-size="10.8" font-weight="bold" fill="#8a9fc4" stroke="#8a9fc4" stroke-width="0" text-anchor="start">Stride = 4</text>
<text x="350.2" y="328.8" font-size="10.8" font-weight="bold" fill="#8a9fc4" stroke="#8a9fc4" stroke-width="0" text-anchor="start">3×3 kernel</text>
<text x="350.2" y="341.3" font-size="10.8" font-weight="bold" fill="#8a9fc4" stroke="#8a9fc4" stroke-width="0" text-anchor="start">Stride = 2</text>
<text x="439.9" y="340.2" font-size="10.9" font-weight="bold" fill="#8a9fc4" stroke="#8a9fc4" stroke-width="0" text-anchor="start">Flatten</text>
<line x1="92.7" y1="421.3" x2="98.9" y2="421.3" stroke="#111" stroke-width="1.4"/>
<polygon points="89.7,421.3 94.2,418.7 94.2,423.90000000000003" fill="#111"/>
<polygon points="101.9,421.3 97.4,418.7 97.4,423.90000000000003" fill="#111"/>
<line x1="163" y1="400.7" x2="173" y2="400.7" stroke="#111" stroke-width="1.4"/>
<polygon points="160,400.7 164.5,398.09999999999997 164.5,403.3" fill="#111"/>
<polygon points="176,400.7 171.5,398.09999999999997 171.5,403.3" fill="#111"/>
<line x1="228.8" y1="387.2" x2="252.1" y2="387.2" stroke="#111" stroke-width="1.4"/>
<polygon points="225.8,387.2 230.3,384.59999999999997 230.3,389.8" fill="#111"/>
<polygon points="255.1,387.2 250.6,384.59999999999997 250.6,389.8" fill="#111"/>
<line x1="302.7" y1="379.3" x2="334" y2="379.3" stroke="#111" stroke-width="1.4"/>
<polygon points="299.7,379.3 304.2,376.7 304.2,381.90000000000003" fill="#111"/>
<polygon points="337,379.3 332.5,376.7 332.5,381.90000000000003" fill="#111"/>
<line x1="382.7" y1="374.5" x2="438.2" y2="374.5" stroke="#111" stroke-width="1.4"/>
<polygon points="379.7,374.5 384.2,371.9 384.2,377.1" fill="#111"/>
<polygon points="441.2,374.5 436.7,371.9 436.7,377.1" fill="#111"/>
<text x="80.3" y="436" font-size="10.4" font-weight="bold" fill="#111" stroke="#111" stroke-width="0.3" text-anchor="start">8 layers</text>
<text x="146" y="415.7" font-size="10.4" font-weight="bold" fill="#111" stroke="#111" stroke-width="0.3" text-anchor="start">16 layers</text>
<text x="220" y="402.1" font-size="10.4" font-weight="bold" fill="#111" stroke="#111" stroke-width="0.3" text-anchor="start">32 layers</text>
<text x="299.7" y="393.4" font-size="10.4" font-weight="bold" fill="#111" stroke="#111" stroke-width="0.3" text-anchor="start">64 layers</text>
<text x="385.6" y="389.6" font-size="10.4" font-weight="bold" fill="#111" stroke="#111" stroke-width="0.3" text-anchor="start">128 layers</text>
<line x1="592" y1="329.2" x2="611" y2="343.6" stroke="#222" stroke-width="0.6"/>
<line x1="592" y1="329.2" x2="611" y2="362.8" stroke="#222" stroke-width="0.6"/>
<line x1="592" y1="329.2" x2="611" y2="382" stroke="#222" stroke-width="0.6"/>
<line x1="592" y1="346.2" x2="611" y2="343.6" stroke="#222" stroke-width="0.6"/>
<line x1="592" y1="346.2" x2="611" y2="362.8" stroke="#222" stroke-width="0.6"/>
<line x1="592" y1="346.2" x2="611" y2="382" stroke="#222" stroke-width="0.6"/>
<line x1="592" y1="379.3" x2="611" y2="343.6" stroke="#222" stroke-width="0.6"/>
<line x1="592" y1="379.3" x2="611" y2="362.8" stroke="#222" stroke-width="0.6"/>
<line x1="592" y1="379.3" x2="611" y2="382" stroke="#222" stroke-width="0.6"/>
<line x1="592" y1="396.2" x2="611" y2="343.6" stroke="#222" stroke-width="0.6"/>
<line x1="592" y1="396.2" x2="611" y2="362.8" stroke="#222" stroke-width="0.6"/>
<line x1="592" y1="396.2" x2="611" y2="382" stroke="#222" stroke-width="0.6"/>
<circle cx="587" cy="329.2" r="5.5" fill="#a9c0e0"/>
<circle cx="587" cy="346.2" r="5.5" fill="#a9c0e0"/>
<circle cx="587" cy="379.3" r="5.5" fill="#a9c0e0"/>
<circle cx="587" cy="396.2" r="5.5" fill="#a9c0e0"/>
<circle cx="616.2" cy="343.6" r="5.6" fill="#a9c0e0"/>
<circle cx="616.2" cy="362.8" r="5.6" fill="#a9c0e0"/>
<circle cx="616.2" cy="382" r="5.6" fill="#a9c0e0"/>
<circle cx="587" cy="359.6" r="0.8" fill="#111"/>
<circle cx="587" cy="363.2" r="0.8" fill="#111"/>
<circle cx="587" cy="366.8" r="0.8" fill="#111"/>
<text x="625.3" y="347" font-size="11" font-weight="bold" fill="#111" stroke="#111" stroke-width="0.3">S<tspan font-size="7.5" dy="2.2">1</tspan></text>
<text x="625.3" y="366.2" font-size="11" font-weight="bold" fill="#111" stroke="#111" stroke-width="0.3">S<tspan font-size="7.5" dy="2.2">2</tspan></text>
<text x="625.3" y="385.5" font-size="11" font-weight="bold" fill="#111" stroke="#111" stroke-width="0.3">S<tspan font-size="7.5" dy="2.2">3</tspan></text>
<text x="8.4" y="485" font-size="10.5" font-weight="bold" fill="#111" stroke="#111" stroke-width="0.3" text-anchor="start">d</text>
<rect x="29.4" y="498.2" width="147.2" height="117.59999999999997" fill="none" stroke="#333" stroke-width="1.3"/>
<line x1="29.4" y1="596.2" x2="31.4" y2="596.2" stroke="#333" stroke-width="0.9"/>
<line x1="29.4" y1="576.6" x2="31.4" y2="576.6" stroke="#333" stroke-width="0.9"/>
<line x1="29.4" y1="557.0" x2="31.4" y2="557.0" stroke="#333" stroke-width="0.9"/>
<line x1="29.4" y1="537.4" x2="31.4" y2="537.4" stroke="#333" stroke-width="0.9"/>
<line x1="29.4" y1="517.8" x2="31.4" y2="517.8" stroke="#333" stroke-width="0.9"/>
<line x1="47.8" y1="615.8" x2="47.8" y2="613.8" stroke="#333" stroke-width="0.9"/>
<line x1="66.2" y1="615.8" x2="66.2" y2="613.8" stroke="#333" stroke-width="0.9"/>
<line x1="84.6" y1="615.8" x2="84.6" y2="613.8" stroke="#333" stroke-width="0.9"/>
<line x1="103.0" y1="615.8" x2="103.0" y2="613.8" stroke="#333" stroke-width="0.9"/>
<line x1="121.4" y1="615.8" x2="121.4" y2="613.8" stroke="#333" stroke-width="0.9"/>
<line x1="139.8" y1="615.8" x2="139.8" y2="613.8" stroke="#333" stroke-width="0.9"/>
<line x1="158.2" y1="615.8" x2="158.2" y2="613.8" stroke="#333" stroke-width="0.9"/>
<text x="21.6" y="618.7" font-size="10.3" font-weight="bold" fill="#111" stroke="#111" stroke-width="0.3" text-anchor="middle">0</text>
<text x="19.9" y="580.1" font-size="10.3" font-weight="bold" fill="#111" stroke="#111" stroke-width="0.3" text-anchor="middle">0.2</text>
<text x="19.9" y="541.5" font-size="10.3" font-weight="bold" fill="#111" stroke="#111" stroke-width="0.3" text-anchor="middle">0.4</text>
<text x="19.9" y="502.90000000000003" font-size="10.3" font-weight="bold" fill="#111" stroke="#111" stroke-width="0.3" text-anchor="middle">0.6</text>
<text x="30.2" y="628" font-size="10.3" font-weight="bold" fill="#111" stroke="#111" stroke-width="0.3" text-anchor="middle">0</text>
<text x="66.99999999999999" y="628" font-size="10.3" font-weight="bold" fill="#111" stroke="#111" stroke-width="0.3" text-anchor="middle">50</text>
<text x="103.8" y="628" font-size="10.3" font-weight="bold" fill="#111" stroke="#111" stroke-width="0.3" text-anchor="middle">100</text>
<text x="140.6" y="628" font-size="10.3" font-weight="bold" fill="#111" stroke="#111" stroke-width="0.3" text-anchor="middle">150</text>
<text x="177.4" y="628" font-size="10.3" font-weight="bold" fill="#111" stroke="#111" stroke-width="0.3" text-anchor="middle">200</text>
<text x="108" y="643.8" font-size="11.3" font-weight="bold" fill="#111" stroke="#111" stroke-width="0.3" text-anchor="middle">Epoch</text>
<text x="0" y="0" font-size="11.3" font-weight="bold" fill="#111" text-anchor="middle" transform="translate(12.3,557.4) rotate(-90)" stroke="#111" stroke-width="0.3">Loss</text>
<polyline points="30.40,514.30 30.80,529.70 31.70,556.70 33.70,576.00 35.60,589.50 37.00,593.30 37.70,591.69 38.80,595.06 39.90,590.66 41.00,596.24 42.10,593.98 43.20,598.84 44.30,598.31 45.40,602.80 46.50,596.38 47.60,597.42 48.70,593.23 49.80,601.85 50.90,599.60 52.00,604.76 53.10,599.74 54.20,603.43 55.30,601.22 56.40,608.48 57.50,604.09 58.60,608.25 59.70,606.92 60.80,609.13 62.20,608.72 63.60,611.86 65.00,611.13 66.40,612.47 67.80,611.31 69.20,613.78 70.60,612.02 72.00,614.48 73.40,612.25 74.80,614.76 76.20,613.15 77.60,614.35 79.00,613.35 80.40,614.66 81.80,613.30 83.20,614.34 84.60,613.93 86.00,614.53 87.40,613.51 88.80,614.79 90.20,613.85 91.60,614.82 93.00,614.04 94.40,614.99 95.80,614.26 97.20,615.23 98.60,614.22 100.00,615.40 101.40,614.28 102.80,615.40 104.20,614.19 105.60,615.40 107.00,614.32 108.40,615.17 109.80,614.20 111.20,615.40 112.60,614.18 114.00,615.40 115.40,614.30 116.80,615.22 118.20,614.23 119.60,615.40 121.00,614.58 122.40,615.13 123.80,614.22 125.20,615.40 126.60,614.72 128.00,615.40 129.40,614.51 130.80,615.20 132.20,614.59 133.60,615.40 135.00,614.23 136.40,615.13 137.80,614.40 139.20,615.14 140.60,614.33 142.00,615.33 143.40,614.23 144.80,615.40 146.20,614.48 147.60,615.40 149.00,614.61 150.40,615.17 151.80,614.42 153.20,615.15 154.60,614.68 156.00,615.39 157.40,614.42 158.80,615.24 160.20,614.79 161.60,615.40 163.00,614.62 164.40,615.40 165.80,614.25 167.20,615.39 168.60,614.54 170.00,615.40 171.40,614.42 172.80,615.40 174.20,614.48 175.60,615.40" fill="none" stroke="#1818a4" stroke-width="1.6" stroke-linejoin="round"/>
<defs><pattern id="hatchp" patternUnits="userSpaceOnUse" width="7.4" height="7.4" patternTransform="rotate(35)">
<rect width="7.4" height="7.4" fill="#ededf7"/><rect y="0" width="7.4" height="2" fill="#c4c4d2"/></pattern></defs>
<text x="181.6" y="484.9" font-size="10.5" font-weight="bold" fill="#111" stroke="#111" stroke-width="0.3" text-anchor="start">e</text>
<clipPath id="hce"><rect x="214.7" y="498.2" width="156.3" height="118.59999999999997"/></clipPath>
<g clip-path="url(#hce)">
<rect x="214.70" y="502.35" width="26.05" height="114.45" fill="url(#hatchp)"/>
<path d="M214.70,616.8 V502.35 H240.75 V616.8" fill="none" stroke="#6a6aac" stroke-width="0.9" stroke-opacity="0.85"/>
<rect x="240.75" y="598.42" width="26.05" height="18.38" fill="url(#hatchp)"/>
<path d="M240.75,616.8 V598.42 H266.80 V616.8" fill="none" stroke="#6a6aac" stroke-width="0.9" stroke-opacity="0.85"/>
<rect x="266.80" y="611.76" width="26.05" height="5.04" fill="url(#hatchp)"/>
<path d="M266.80,616.8 V611.76 H292.85 V616.8" fill="none" stroke="#6a6aac" stroke-width="0.9" stroke-opacity="0.85"/>
</g>
<rect x="214.7" y="498.2" width="156.3" height="118.59999999999997" fill="none" stroke="#3c3c3c" stroke-width="1.5"/>
<line x1="214.7" y1="602.0" x2="216.7" y2="602.0" stroke="#222" stroke-width="0.8"/>
<line x1="214.7" y1="587.1" x2="216.7" y2="587.1" stroke="#222" stroke-width="0.8"/>
<line x1="214.7" y1="572.3" x2="216.7" y2="572.3" stroke="#222" stroke-width="0.8"/>
<line x1="214.7" y1="557.5" x2="216.7" y2="557.5" stroke="#222" stroke-width="0.8"/>
<line x1="214.7" y1="542.7" x2="216.7" y2="542.7" stroke="#222" stroke-width="0.8"/>
<line x1="214.7" y1="527.9" x2="216.7" y2="527.9" stroke="#222" stroke-width="0.8"/>
<line x1="214.7" y1="513.0" x2="216.7" y2="513.0" stroke="#222" stroke-width="0.8"/>
<line x1="371" y1="604.9" x2="369" y2="604.9" stroke="#222" stroke-width="0.8"/>
<line x1="371" y1="593.1" x2="369" y2="593.1" stroke="#222" stroke-width="0.8"/>
<line x1="371" y1="581.2" x2="369" y2="581.2" stroke="#222" stroke-width="0.8"/>
<line x1="371" y1="569.4" x2="369" y2="569.4" stroke="#222" stroke-width="0.8"/>
<line x1="371" y1="557.5" x2="369" y2="557.5" stroke="#222" stroke-width="0.8"/>
<line x1="371" y1="545.6" x2="369" y2="545.6" stroke="#222" stroke-width="0.8"/>
<line x1="371" y1="533.8" x2="369" y2="533.8" stroke="#222" stroke-width="0.8"/>
<line x1="371" y1="521.9" x2="369" y2="521.9" stroke="#222" stroke-width="0.8"/>
<line x1="371" y1="510.1" x2="369" y2="510.1" stroke="#222" stroke-width="0.8"/>
<line x1="227.7" y1="616.8" x2="227.7" y2="614.8" stroke="#222" stroke-width="0.8"/>
<line x1="240.8" y1="616.8" x2="240.8" y2="614.8" stroke="#222" stroke-width="0.8"/>
<line x1="253.8" y1="616.8" x2="253.8" y2="614.8" stroke="#222" stroke-width="0.8"/>
<line x1="266.8" y1="616.8" x2="266.8" y2="614.8" stroke="#222" stroke-width="0.8"/>
<line x1="279.8" y1="616.8" x2="279.8" y2="614.8" stroke="#222" stroke-width="0.8"/>
<line x1="292.9" y1="616.8" x2="292.9" y2="614.8" stroke="#222" stroke-width="0.8"/>
<line x1="305.9" y1="616.8" x2="305.9" y2="614.8" stroke="#222" stroke-width="0.8"/>
<line x1="318.9" y1="616.8" x2="318.9" y2="614.8" stroke="#222" stroke-width="0.8"/>
<line x1="331.9" y1="616.8" x2="331.9" y2="614.8" stroke="#222" stroke-width="0.8"/>
<line x1="345.0" y1="616.8" x2="345.0" y2="614.8" stroke="#222" stroke-width="0.8"/>
<line x1="358.0" y1="616.8" x2="358.0" y2="614.8" stroke="#222" stroke-width="0.8"/>
<polyline points="215.00,616.30 219.50,586.20 223.00,570.20 226.50,556.10 232.00,540.00 235.00,529.00 240.00,520.00 247.00,512.00 256.00,505.00 268.00,501.00 280.00,498.60 290.00,498.20 371.00,498.20" fill="none" stroke="#1a1a1a" stroke-width="1.0" stroke-linejoin="round"/>
<ellipse cx="258.1" cy="508" rx="5" ry="7.6" fill="none" stroke="#111" stroke-width="1.4"/>
<line x1="261.1" y1="515" x2="268.1" y2="515" stroke="#555" stroke-width="0.8"/>
<polygon points="272.1,515 267.1,512.7 267.1,517.3" fill="#111"/>
<text x="204.7" y="619.6" font-size="10.3" font-weight="bold" fill="#1a1a90" stroke="#1a1a90" stroke-width="0.3" text-anchor="middle">0</text>
<text x="203.7" y="589.9" font-size="10.3" font-weight="bold" fill="#1a1a90" stroke="#1a1a90" stroke-width="0.3" text-anchor="middle">100</text>
<text x="203.7" y="560.2" font-size="10.3" font-weight="bold" fill="#1a1a90" stroke="#1a1a90" stroke-width="0.3" text-anchor="middle">200</text>
<text x="203.7" y="530.5" font-size="10.3" font-weight="bold" fill="#1a1a90" stroke="#1a1a90" stroke-width="0.3" text-anchor="middle">300</text>
<text x="203.7" y="500.8" font-size="10.3" font-weight="bold" fill="#1a1a90" stroke="#1a1a90" stroke-width="0.3" text-anchor="middle">400</text>
<text x="374" y="618.0" font-size="10.3" font-weight="bold" fill="#111" stroke="#111" stroke-width="0.3" text-anchor="start">0</text>
<text x="374" y="595.06" font-size="10.3" font-weight="bold" fill="#111" stroke="#111" stroke-width="0.3" text-anchor="start">0.2</text>
<text x="374" y="572.12" font-size="10.3" font-weight="bold" fill="#111" stroke="#111" stroke-width="0.3" text-anchor="start">0.4</text>
<text x="374" y="549.18" font-size="10.3" font-weight="bold" fill="#111" stroke="#111" stroke-width="0.3" text-anchor="start">0.6</text>
<text x="374" y="526.24" font-size="10.3" font-weight="bold" fill="#111" stroke="#111" stroke-width="0.3" text-anchor="start">0.8</text>
<text x="374" y="503.3" font-size="10.3" font-weight="bold" fill="#111" stroke="#111" stroke-width="0.3" text-anchor="start">1</text>
<text x="215.2" y="627.6" font-size="10.3" font-weight="bold" fill="#111" stroke="#111" stroke-width="0.3" text-anchor="middle">0</text>
<text x="238.05" y="627.6" font-size="10.3" font-weight="bold" fill="#111" stroke="#111" stroke-width="0.3" text-anchor="middle">0.1</text>
<text x="264.1" y="627.6" font-size="10.3" font-weight="bold" fill="#111" stroke="#111" stroke-width="0.3" text-anchor="middle">0.2</text>
<text x="290.15000000000003" y="627.6" font-size="10.3" font-weight="bold" fill="#111" stroke="#111" stroke-width="0.3" text-anchor="middle">0.3</text>
<text x="316.20000000000005" y="627.6" font-size="10.3" font-weight="bold" fill="#111" stroke="#111" stroke-width="0.3" text-anchor="middle">0.4</text>
<text x="342.25000000000006" y="627.6" font-size="10.3" font-weight="bold" fill="#111" stroke="#111" stroke-width="0.3" text-anchor="middle">0.5</text>
<text x="368.30000000000007" y="627.6" font-size="10.3" font-weight="bold" fill="#111" stroke="#111" stroke-width="0.3" text-anchor="middle">0.6</text>
<text x="297" y="645" font-size="11.8" font-weight="bold" fill="#111" stroke="#111" stroke-width="0.3" text-anchor="middle">Residual</text>
<text x="0" y="0" font-size="11.5" font-weight="bold" fill="#1a1a90" text-anchor="middle" transform="translate(192,554.2) rotate(-90)" stroke="#1a1a90" stroke-width="0.3">Count</text>
<text x="0" y="0" font-size="10.4" font-weight="bold" fill="#111" text-anchor="middle" transform="translate(395.3,557.5) rotate(90)" stroke="#111" stroke-width="0.3">Cumulative Probability</text>
<text x="418.2" y="485" font-size="10.5" font-weight="bold" fill="#111" stroke="#111" stroke-width="0.3" text-anchor="start">f</text>
<clipPath id="hcf"><rect x="450.3" y="498.2" width="155.99999999999994" height="118.59999999999997"/></clipPath>
<g clip-path="url(#hcf)">
<rect x="450.30" y="507.69" width="26.00" height="109.11" fill="url(#hatchp)"/>
<path d="M450.30,616.8 V507.69 H476.30 V616.8" fill="none" stroke="#a8a8cc" stroke-width="0.9" stroke-opacity="0.85"/>
<rect x="476.30" y="588.93" width="26.00" height="27.87" fill="url(#hatchp)"/>
<path d="M476.30,616.8 V588.93 H502.30 V616.8" fill="none" stroke="#a8a8cc" stroke-width="0.9" stroke-opacity="0.85"/>
<rect x="502.30" y="607.61" width="26.00" height="9.19" fill="url(#hatchp)"/>
<path d="M502.30,616.8 V607.61 H528.30 V616.8" fill="none" stroke="#a8a8cc" stroke-width="0.9" stroke-opacity="0.85"/>
<rect x="528.30" y="607.61" width="26.00" height="9.19" fill="url(#hatchp)"/>
<path d="M528.30,616.8 V607.61 H554.30 V616.8" fill="none" stroke="#a8a8cc" stroke-width="0.9" stroke-opacity="0.85"/>
<rect x="554.30" y="607.61" width="26.00" height="9.19" fill="url(#hatchp)"/>
<path d="M554.30,616.8 V607.61 H580.30 V616.8" fill="none" stroke="#a8a8cc" stroke-width="0.9" stroke-opacity="0.85"/>
<rect x="580.30" y="609.68" width="26.00" height="7.12" fill="url(#hatchp)"/>
<path d="M580.30,616.8 V609.68 H606.30 V616.8" fill="none" stroke="#a8a8cc" stroke-width="0.9" stroke-opacity="0.85"/>
</g>
<rect x="450.3" y="498.2" width="155.99999999999994" height="118.59999999999997" fill="none" stroke="#3c3c3c" stroke-width="1.5"/>
<line x1="450.3" y1="602.0" x2="452.3" y2="602.0" stroke="#222" stroke-width="0.8"/>
<line x1="450.3" y1="587.1" x2="452.3" y2="587.1" stroke="#222" stroke-width="0.8"/>
<line x1="450.3" y1="572.3" x2="452.3" y2="572.3" stroke="#222" stroke-width="0.8"/>
<line x1="450.3" y1="557.5" x2="452.3" y2="557.5" stroke="#222" stroke-width="0.8"/>
<line x1="450.3" y1="542.7" x2="452.3" y2="542.7" stroke="#222" stroke-width="0.8"/>
<line x1="450.3" y1="527.9" x2="452.3" y2="527.9" stroke="#222" stroke-width="0.8"/>
<line x1="450.3" y1="513.0" x2="452.3" y2="513.0" stroke="#222" stroke-width="0.8"/>
<line x1="606.3" y1="604.9" x2="604.3" y2="604.9" stroke="#222" stroke-width="0.8"/>
<line x1="606.3" y1="593.1" x2="604.3" y2="593.1" stroke="#222" stroke-width="0.8"/>
<line x1="606.3" y1="581.2" x2="604.3" y2="581.2" stroke="#222" stroke-width="0.8"/>
<line x1="606.3" y1="569.4" x2="604.3" y2="569.4" stroke="#222" stroke-width="0.8"/>
<line x1="606.3" y1="557.5" x2="604.3" y2="557.5" stroke="#222" stroke-width="0.8"/>
<line x1="606.3" y1="545.6" x2="604.3" y2="545.6" stroke="#222" stroke-width="0.8"/>
<line x1="606.3" y1="533.8" x2="604.3" y2="533.8" stroke="#222" stroke-width="0.8"/>
<line x1="606.3" y1="521.9" x2="604.3" y2="521.9" stroke="#222" stroke-width="0.8"/>
<line x1="606.3" y1="510.1" x2="604.3" y2="510.1" stroke="#222" stroke-width="0.8"/>
<line x1="463.3" y1="616.8" x2="463.3" y2="614.8" stroke="#222" stroke-width="0.8"/>
<line x1="476.3" y1="616.8" x2="476.3" y2="614.8" stroke="#222" stroke-width="0.8"/>
<line x1="489.3" y1="616.8" x2="489.3" y2="614.8" stroke="#222" stroke-width="0.8"/>
<line x1="502.3" y1="616.8" x2="502.3" y2="614.8" stroke="#222" stroke-width="0.8"/>
<line x1="515.3" y1="616.8" x2="515.3" y2="614.8" stroke="#222" stroke-width="0.8"/>
<line x1="528.3" y1="616.8" x2="528.3" y2="614.8" stroke="#222" stroke-width="0.8"/>
<line x1="541.3" y1="616.8" x2="541.3" y2="614.8" stroke="#222" stroke-width="0.8"/>
<line x1="554.3" y1="616.8" x2="554.3" y2="614.8" stroke="#222" stroke-width="0.8"/>
<line x1="567.3" y1="616.8" x2="567.3" y2="614.8" stroke="#222" stroke-width="0.8"/>
<line x1="580.3" y1="616.8" x2="580.3" y2="614.8" stroke="#222" stroke-width="0.8"/>
<line x1="593.3" y1="616.8" x2="593.3" y2="614.8" stroke="#222" stroke-width="0.8"/>
<polyline points="450.30,616.80 451.10,610.90 453.90,583.20 457.60,564.70 462.20,548.00 466.80,539.70 472.30,535.10 477.00,533.30 488.00,528.70 501.00,523.10 514.00,517.60 528.70,512.00 540.00,509.20 556.60,504.70 575.30,501.00 594.00,498.60 606.30,498.20" fill="none" stroke="#1a1a1a" stroke-width="1.0" stroke-linejoin="round"/>
<ellipse cx="515.6" cy="517.5" rx="4.9" ry="7" fill="none" stroke="#111" stroke-width="1.4"/>
<line x1="519" y1="524.4" x2="524.8" y2="524.4" stroke="#555" stroke-width="0.8"/>
<polygon points="528.8,524.4 523.8,522.1 523.8,526.6999999999999" fill="#111"/>
<text x="438.8" y="619.6" font-size="10.3" font-weight="bold" fill="#1a1a90" stroke="#1a1a90" stroke-width="0.3" text-anchor="middle">0</text>
<text x="437.8" y="589.9" font-size="10.3" font-weight="bold" fill="#1a1a90" stroke="#1a1a90" stroke-width="0.3" text-anchor="middle">100</text>
<text x="437.8" y="560.2" font-size="10.3" font-weight="bold" fill="#1a1a90" stroke="#1a1a90" stroke-width="0.3" text-anchor="middle">200</text>
<text x="437.8" y="530.5" font-size="10.3" font-weight="bold" fill="#1a1a90" stroke="#1a1a90" stroke-width="0.3" text-anchor="middle">300</text>
<text x="437.8" y="500.8" font-size="10.3" font-weight="bold" fill="#1a1a90" stroke="#1a1a90" stroke-width="0.3" text-anchor="middle">400</text>
<text x="609.3" y="618.0" font-size="10.3" font-weight="bold" fill="#111" stroke="#111" stroke-width="0.3" text-anchor="start">0</text>
<text x="609.3" y="595.06" font-size="10.3" font-weight="bold" fill="#111" stroke="#111" stroke-width="0.3" text-anchor="start">0.2</text>
<text x="609.3" y="572.12" font-size="10.3" font-weight="bold" fill="#111" stroke="#111" stroke-width="0.3" text-anchor="start">0.4</text>
<text x="609.3" y="549.18" font-size="10.3" font-weight="bold" fill="#111" stroke="#111" stroke-width="0.3" text-anchor="start">0.6</text>
<text x="609.3" y="526.24" font-size="10.3" font-weight="bold" fill="#111" stroke="#111" stroke-width="0.3" text-anchor="start">0.8</text>
<text x="609.3" y="503.3" font-size="10.3" font-weight="bold" fill="#111" stroke="#111" stroke-width="0.3" text-anchor="start">1</text>
<text x="450.8" y="627.6" font-size="10.3" font-weight="bold" fill="#111" stroke="#111" stroke-width="0.3" text-anchor="middle">0</text>
<text x="473.6" y="627.6" font-size="10.3" font-weight="bold" fill="#111" stroke="#111" stroke-width="0.3" text-anchor="middle">0.1</text>
<text x="499.6" y="627.6" font-size="10.3" font-weight="bold" fill="#111" stroke="#111" stroke-width="0.3" text-anchor="middle">0.2</text>
<text x="525.5999999999999" y="627.6" font-size="10.3" font-weight="bold" fill="#111" stroke="#111" stroke-width="0.3" text-anchor="middle">0.3</text>
<text x="551.5999999999999" y="627.6" font-size="10.3" font-weight="bold" fill="#111" stroke="#111" stroke-width="0.3" text-anchor="middle">0.4</text>
<text x="577.5999999999999" y="627.6" font-size="10.3" font-weight="bold" fill="#111" stroke="#111" stroke-width="0.3" text-anchor="middle">0.5</text>
<text x="603.5999999999999" y="627.6" font-size="10.3" font-weight="bold" fill="#111" stroke="#111" stroke-width="0.3" text-anchor="middle">0.6</text>
<text x="534.3" y="645" font-size="11.8" font-weight="bold" fill="#111" stroke="#111" stroke-width="0.3" text-anchor="middle">Residual</text>
<text x="0" y="0" font-size="11.5" font-weight="bold" fill="#1a1a90" text-anchor="middle" transform="translate(424.6,554.2) rotate(-90)" stroke="#1a1a90" stroke-width="0.3">Count</text>
<text x="0" y="0" font-size="10.4" font-weight="bold" fill="#111" text-anchor="middle" transform="translate(626.6,557.5) rotate(90)" stroke="#111" stroke-width="0.3">Cumulative Probability</text>
</svg></body></html>
